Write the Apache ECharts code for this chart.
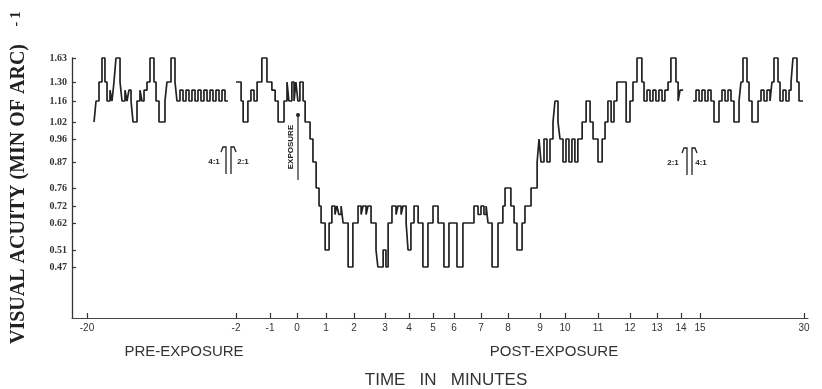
<!DOCTYPE html>
<html>
<head>
<meta charset="utf-8">
<script src="https://cdn.jsdelivr.net/npm/echarts@6/dist/echarts.min.js"></script>
<style>
    html, body { margin: 0; padding: 0; background: #fff; }
    #acuity-chart { width: 822px; height: 389px; }
</style>
</head>
<body>
<div id="acuity-chart"></div>
<script>
    // time (minutes) where the acuity level changes, and the level reached
    var times = [
        -19.15, -18.91, -18.55, -18.19, -17.83, -17.58, -17.22, -16.98, -16.74, -16.50,
        -16.01, -15.77, -15.41, -15.17, -14.93, -14.68, -14.44, -13.96, -13.60, -13.36,
        -13.11, -12.75, -12.39, -11.91, -11.66, -11.30, -10.58, -10.34, -9.85, -9.37,
        -9.13, -8.77, -8.40, -8.04, -7.68, -7.32, -6.95, -6.59, -6.23, -5.87,
        -5.50, -5.14, -4.78, -4.42, -4.05, -3.69, -3.33, -2.97, -2.00, -1.85,
        -1.79, -1.65, -1.56, -1.47, -1.38, -1.24, -1.09, -0.93, -0.81, -0.70,
        -0.48, -0.37, -0.30, -0.19, -0.11, -0.04, 0.03, 0.10, 0.21,
        0.28, 0.45, 0.55, 0.66, 0.76, 0.83, 0.97,
        1.11, 1.21, 1.32, 1.39, 1.46, 1.54, 1.61, 1.79, 1.96, 2.13,
        2.23, 2.29, 2.39, 2.45, 2.55, 2.71, 2.77, 2.94, 3.04, 3.13,
        3.29, 3.46, 3.54, 3.67, 3.75, 3.88, 3.96, 4.08, 4.21, 4.38,
        4.58, 4.79, 5.00, 5.24, 5.52, 5.76, 6.11, 6.33, 6.74, 6.89,
        7.00, 7.11, 7.19, 7.26, 7.41, 7.63, 7.81, 7.89, 8.09, 8.19,
        8.28, 8.44, 8.53, 8.72, 8.91,
        8.97, 9.04, 9.16, 9.28, 9.40, 9.52, 9.60, 9.72, 9.80, 9.92,
        10.03, 10.12, 10.21, 10.30, 10.39, 10.52, 10.64, 10.76, 10.85, 11.00,
        11.13, 11.22, 11.31, 11.41, 11.50, 11.59, 11.88, 12.00, 12.11, 12.26,
        12.44, 12.52, 12.63, 12.74, 12.85, 12.96, 13.08, 13.21, 13.33, 13.46,
        13.58, 13.79, 13.88, 13.96, 14.11, 14.63, 14.79, 14.95, 15.29, 15.72,
        16.15, 16.59, 17.02, 17.74, 18.17, 18.61, 19.04, 19.47, 19.90, 20.63,
        20.91, 21.20, 21.78, 22.07, 22.50, 23.37, 23.80, 24.23, 24.66, 25.10,
        25.38, 25.67, 26.25, 26.54, 26.97, 27.40, 27.84, 28.13, 28.41, 28.99,
        29.28, 29.86
    ];
    var acuity = [
        1.02, 1.16, 1.30, 1.63, 1.30, 1.16, 1.24, 1.16, 1.30, 1.63,
        1.30, 1.16, 1.24, 1.16, 1.24, 1.16, 1.02, 1.16, 1.24, 1.16,
        1.24, 1.30, 1.63, 1.30, 1.16, 1.02, 1.16, 1.30, 1.63, 1.30,
        1.16, 1.24, 1.16, 1.24, 1.16, 1.24, 1.16, 1.24, 1.16, 1.24,
        1.16, 1.24, 1.16, 1.24, 1.16, 1.24, 1.16, null, 1.30, 1.16,
        1.02, 1.16, 1.24, 1.16, 1.30, 1.63, 1.30, 1.24, 1.16, 1.02,
        1.16, 1.30, 1.16, 1.30, 1.16, 1.30, 1.16, 1.30, 1.16,
        1.02, 0.96, 0.87, 0.76, 0.72, 0.62, 0.51,
        0.62, 0.72, 0.67, 0.72, 0.67, 0.72, 0.62, 0.47, 0.62, 0.72,
        0.67, 0.72, 0.67, 0.72, 0.62, 0.51, 0.47, 0.51, 0.47, 0.62,
        0.72, 0.67, 0.72, 0.67, 0.72, 0.62, 0.51, 0.62, 0.72, 0.62,
        0.47, 0.62, 0.72, 0.62, 0.47, 0.62, 0.47, 0.62, 0.72, 0.67,
        0.72, 0.67, 0.72, 0.62, 0.47, 0.62, 0.72, 0.76, 0.72, 0.62,
        0.51, 0.62, 0.72, 0.76, 0.87,
        0.96, 0.87, 0.96, 0.87, 0.96, 1.02, 1.16, 1.02, 0.96, 0.87,
        0.96, 0.87, 0.96, 0.87, 0.96, 1.02, 1.16, 1.02, 0.96, 0.87,
        0.96, 1.02, 1.16, 1.02, 1.16, 1.30, 1.02, 1.16, 1.30, 1.63,
        1.30, 1.16, 1.24, 1.16, 1.24, 1.16, 1.24, 1.16, 1.24, 1.30,
        1.63, 1.30, 1.16, 1.24, null, 1.16, 1.24, 1.16, 1.24, 1.16,
        1.24, 1.16, 1.02, 1.16, 1.24, 1.16, 1.24, 1.16, 1.02, 1.16,
        1.30, 1.63, 1.30, 1.16, 1.02, 1.16, 1.24, 1.16, 1.24, 1.16,
        1.30, 1.63, 1.30, 1.16, 1.24, 1.16, 1.24, 1.30, 1.63, 1.30,
        1.16, 1.16
    ];

    // the printed axes are not linear: tick values and where they sit on the axis
    var xTickMinutes = [-20, -2, -1, 0, 1, 2, 3, 4, 5, 6, 7, 8, 9, 10, 11, 12, 13, 14, 15, 30];
    var xTickPos = [15, 164, 198, 225, 254, 282, 313, 337, 361, 382, 409, 436, 468, 493, 526, 558, 585, 609, 628, 732];
    var yTickAcuity = [1.63, 1.30, 1.16, 1.02, 0.96, 0.87, 0.76, 0.72, 0.62, 0.51, 0.47];
    var yTickPos = [260, 236, 217, 196, 179, 156, 130, 112, 95, 68, 51];

    //分段线性映射
    function interp(v, from, to) {
        for (var i = 0; i < from.length - 1; i++) {
            var a = from[i], b = from[i + 1];
            if ((v >= Math.min(a, b)) && (v <= Math.max(a, b))) {
                return to[i] + (v - a) / (b - a) * (to[i + 1] - to[i]);
            }
        }
        return NaN;
    }

    var lineData = times.map(function (t, i) {
        var v = acuity[i];
        return [interp(t, xTickMinutes, xTickPos), v == null ? null : interp(v, yTickAcuity, yTickPos)];
    });

    var ink = '#222';
    var smallText = function (x, y, text) {
        return {
            type: 'text', x: x, y: y,
            style: { text: text, fill: ink, font: 'bold 8px "Liberation Sans"', align: 'center', verticalAlign: 'middle' }
        };
    };
    var hook = function (points) {
        return { type: 'polyline', shape: { points: points }, style: { stroke: ink, lineWidth: 1.3, fill: null } };
    };

    var myChart = echarts.init(document.getElementById('acuity-chart'));
    myChart.setOption({
        backgroundColor: '#fff',
        animation: false,
        grid: { left: 72, right: 14, top: 58, bottom: 71 },
        xAxis: {
            type: 'value',
            min: 0,
            max: 736,
            axisLine: { lineStyle: { color: '#444', width: 1 } },
            axisTick: {
                inside: true,
                length: 5,
                customValues: xTickPos,
                lineStyle: { color: '#333', width: 1.2 }
            },
            axisLabel: {
                customValues: xTickPos,
                margin: 5,
                color: '#333',
                fontSize: 10,
                fontFamily: 'Liberation Sans',
                formatter: function (val) {
                    var i = xTickPos.indexOf(Math.round(val));
                    return i >= 0 ? String(xTickMinutes[i]) : '';
                }
            },
            splitLine: { show: false }
        },
        yAxis: {
            type: 'value',
            min: 0,
            max: 260,
            axisLine: { show: true, lineStyle: { color: '#333', width: 1.3 } },
            axisTick: {
                inside: true,
                length: 4,
                customValues: yTickPos,
                lineStyle: { color: '#333', width: 1.2 }
            },
            axisLabel: {
                customValues: yTickPos,
                margin: 5,
                color: '#333',
                fontSize: 10,
                fontWeight: 'bold',
                fontFamily: 'Liberation Serif',
                formatter: function (val) {
                    var i = yTickPos.indexOf(Math.round(val));
                    return i >= 0 ? yTickAcuity[i].toFixed(2) : '';
                }
            },
            splitLine: { show: false }
        },
        series: [{
            type: 'line',
            step: 'end',
            data: lineData,
            showSymbol: false,
            clip: false,
            lineStyle: { color: ink, width: 1.7 }
        }],
        graphic: [
            //纵轴标题
            {
                type: 'text', x: 19, y: 194, rotation: Math.PI / 2,
                style: {
                    text: 'VISUAL ACUITY (MIN OF ARC)', fill: ink,
                    font: 'bold 20px "Liberation Serif"', align: 'center', verticalAlign: 'middle'
                }
            },
            {
                type: 'text', x: 16, y: 19, rotation: Math.PI / 2,
                style: { text: '- 1', fill: ink, font: 'bold 14px "Liberation Serif"', align: 'center', verticalAlign: 'middle' }
            },
            //横轴说明
            {
                type: 'text', x: 184, y: 352,
                style: { text: 'PRE-EXPOSURE', fill: '#333', font: '15px "Liberation Sans"', align: 'center', verticalAlign: 'middle' }
            },
            {
                type: 'text', x: 554, y: 352,
                style: { text: 'POST-EXPOSURE', fill: '#333', font: '15px "Liberation Sans"', align: 'center', verticalAlign: 'middle' }
            },
            {
                type: 'text', x: 446, y: 380,
                style: { text: 'TIME   IN   MINUTES', fill: '#333', font: '17px "Liberation Sans"', align: 'center', verticalAlign: 'middle' }
            },
            //曝光标记
            {
                type: 'text', x: 291, y: 147, rotation: Math.PI / 2,
                style: { text: 'EXPOSURE', fill: ink, font: 'bold 8px "Liberation Sans"', align: 'center', verticalAlign: 'middle' }
            },
            { type: 'line', shape: { x1: 298, y1: 116, x2: 298, y2: 180 }, style: { stroke: ink, lineWidth: 1.2 } },
            { type: 'circle', shape: { cx: 298, cy: 115, r: 2 }, style: { fill: ink } },
            //比例符号
            smallText(214, 162, '4:1'),
            smallText(243, 162, '2:1'),
            hook([[221, 152], [223, 147], [226, 147], [226, 174]]),
            hook([[231, 174], [231, 147], [234, 147], [236, 152]]),
            smallText(673, 163, '2:1'),
            smallText(701, 163, '4:1'),
            hook([[682, 153], [684, 148], [687, 148], [687, 175]]),
            hook([[692, 175], [692, 148], [695, 148], [697, 153]])
        ]
    });
</script>
</body>
</html>
